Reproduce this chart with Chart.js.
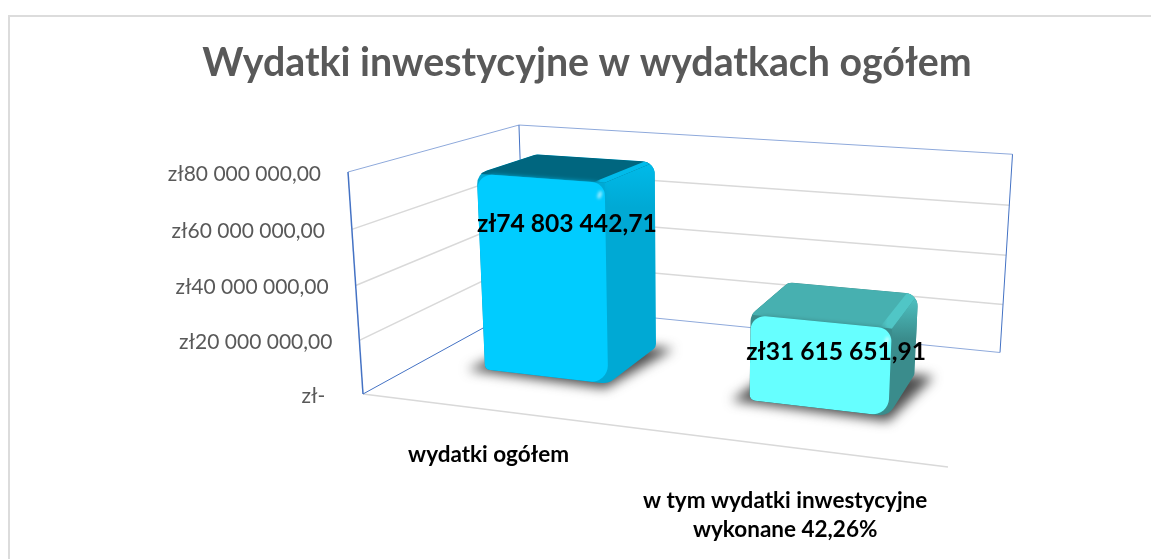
<!DOCTYPE html>
<html>
<head>
    <title>Wydatki inwestycyjne w wydatkach ogółem</title>
    <script src="https://cdn.jsdelivr.net/npm/chart.js"></script>
    <style>
        html, body { margin: 0; padding: 0; background: #fff; overflow: hidden; }
        #page { position: relative; width: 1151px; height: 559px; overflow: hidden; }
        #card { position: absolute; left: 8px; top: 15px; width: 1200px; height: 600px;
                border-left: 2px solid #dcdcdc; border-top: 2px solid #dcdcdc; }
        /* wider than the window: the card is cut off on the right in the original */
        canvas { position: absolute; left: 0; top: 0; }
    </style>
</head>
<body>
<div id="page">
    <div id="card"></div>
    <canvas id="chart" width="1174" height="559"></canvas>
</div>
<script>
    const categories = ['wydatki ogółem', ['w tym wydatki inwestycyjne', 'wykonane 42,26%']];
    const values = [74803442.71, 31615651.91];
    const frontColors = ['#00ccff', '#66ffff'];
    const topColors = ['#00667f', '#47b0b0'];
    const sideColors = ['#00a9d4', '#3a8c8c'];
    const bevelColors = ['#00bbea', '#50c6c6'];
    const axisMax = 80000000;
    const axisStep = 20000000;

    // floor corners on screen, and the point the vertical edges run to
    const floorQuad = [[363, 394], [948, 467], [1000, 352.5], [525, 305]];
    const vanish = [691, 5252];
    const rise = -0.0437;
    const barFront = 0.31, barBack = 0.69;
    const labelShift = [[27, 46], [16, 31]];
    const categoryShift = [[-7, 44], [-2, 54]];
    const uiFont = 'Lato, Carlito, sans-serif';

    function quadMap(q) {
        const [p0, p1, p2, p3] = q;
        const dx1 = p1[0] - p2[0], dy1 = p1[1] - p2[1];
        const dx2 = p3[0] - p2[0], dy2 = p3[1] - p2[1];
        const sx = p0[0] - p1[0] + p2[0] - p3[0], sy = p0[1] - p1[1] + p2[1] - p3[1];
        const den = dx1 * dy2 - dy1 * dx2;
        const g = (sx * dy2 - sy * dx2) / den, h = (dx1 * sy - dy1 * sx) / den;
        return (u, w) => [
            (p1[0] - p0[0] + g * p1[0]) * u + (p3[0] - p0[0] + h * p3[0]) * w + p0[0],
            (p1[1] - p0[1] + g * p1[1]) * u + (p3[1] - p0[1] + h * p3[1]) * w + p0[1],
            1 + g * u + h * w
        ];
    }
    const floorMap = quadMap(floorQuad);

    // u across the categories, v up the value axis, w into the depth
    function project(u, v, w) {
        const f = floorMap(u, w);
        const t = rise * v;
        const d = f[2] + t;
        return [(f[0] + t * vanish[0]) / d, (f[1] + t * vanish[1]) / d];
    }

    function line(ctx, a, b, color, width) {
        ctx.beginPath();
        ctx.moveTo(a[0], a[1]);
        ctx.lineTo(b[0], b[1]);
        ctx.strokeStyle = color;
        ctx.lineWidth = width;
        ctx.stroke();
    }

    function poly(ctx, pts) {
        ctx.beginPath();
        pts.forEach((p, i) => i ? ctx.lineTo(p[0], p[1]) : ctx.moveTo(p[0], p[1]));
        ctx.closePath();
    }

    function roundPoly(ctx, pts, radii) {
        const n = pts.length;
        ctx.beginPath();
        ctx.moveTo((pts[n - 1][0] + pts[0][0]) / 2, (pts[n - 1][1] + pts[0][1]) / 2);
        pts.forEach((p, i) => {
            const next = pts[(i + 1) % n];
            ctx.arcTo(p[0], p[1], (p[0] + next[0]) / 2, (p[1] + next[1]) / 2, radii[i]);
        });
        ctx.closePath();
    }

    function money(v) {
        if (v === 0) return 'zł-  ';
        const parts = v.toFixed(2).split('.');
        return 'zł' + parts[0].replace(/\B(?=(\d{3})+$)/g, ' ') + ',' + parts[1];
    }

    const frame3d = {
        id: 'frame3d',
        beforeDatasetsDraw(chart) {
            const ctx = chart.ctx;
            const yScale = chart.scales.y;
            const blue = '#4472c4', paleBlue = '#8ea9db', grid = '#d9d9d9';
            ctx.save();
            yScale.ticks.forEach(t => {
                const v = t.value / axisMax;
                if (t.value > 0 && t.value < axisMax) {
                    const a = project(0, v, 0), b = project(0, v, 1), c = project(1, v, 1);
                    ctx.beginPath();
                    ctx.moveTo(a[0], a[1]);
                    ctx.lineTo(b[0], b[1]);
                    ctx.lineTo(c[0], c[1]);
                    ctx.strokeStyle = grid;
                    ctx.lineWidth = 1.5;
                    ctx.stroke();
                }
                const p = project(0, v, 0);
                ctx.font = '21px ' + uiFont;
                ctx.fillStyle = '#595959';
                ctx.textAlign = 'right';
                ctx.textBaseline = 'middle';
                ctx.fillText(t.label, p[0] - 27, p[1] + 2);
            });
            line(ctx, project(0, 0, 0), project(1, 0, 0), grid, 1.5);
            line(ctx, project(0, 1, 0), project(0, 1, 1), paleBlue, 1);
            line(ctx, project(0, 1, 1), project(1, 1, 1), paleBlue, 1);
            line(ctx, project(1, 1, 1), project(1, 0, 1), blue, 1);
            line(ctx, project(1, 0, 1), project(0, 0, 1), paleBlue, 1);
            line(ctx, project(0, 1, 1), project(0, 0, 1), blue, 1);
            line(ctx, project(0, 0, 1), project(0, 0, 0), blue, 1);
            line(ctx, project(0, 0, 0), project(0, 1, 0), blue, 1.5);
            ctx.restore();
        },
        // the flat rectangles are replaced by the boxes drawn below
        beforeDatasetDraw() {
            return false;
        },
        afterDatasetsDraw(chart) {
            const ctx = chart.ctx, area = chart.chartArea;
            const bars = chart.getDatasetMeta(0).data;
            bars.forEach((el, i) => drawBox(ctx, area, el, i));
            // labels go on top of both boxes
            ctx.save();
            bars.forEach((el, i) => {
                const u = (el.x - area.left) / area.width;
                const v = (area.bottom - el.y) / area.height;
                const p = project(u, v, barFront);
                ctx.font = 'bold 24.6px ' + uiFont;
                ctx.fillStyle = '#000';
                ctx.textAlign = 'center';
                ctx.textBaseline = 'middle';
                ctx.fillText(money(values[i]), p[0] + labelShift[i][0], p[1] + labelShift[i][1]);

                const c = project(u, 0, 0);
                const lines = [].concat(categories[i]);
                ctx.font = 'bold 22.5px ' + uiFont;
                lines.forEach((s, k) => {
                    ctx.fillText(s, c[0] + categoryShift[i][0], c[1] + categoryShift[i][1] + k * 29);
                });
            });
            ctx.restore();
        }
    };

    function drawBox(ctx, area, el, i) {
        const u0 = (el.x - el.width / 2 - area.left) / area.width;
        const u1 = (el.x + el.width / 2 - area.left) / area.width;
        const v = (area.bottom - el.y) / area.height;
        const fbl = project(u0, 0, barFront), fbr = project(u1, 0, barFront);
        const ftl = project(u0, v, barFront), ftr = project(u1, v, barFront);
        const bbr = project(u1, 0, barBack), btr = project(u1, v, barBack);
        const btl = project(u0, v, barBack);

        ctx.save();
        // soft shadow on the floor
        ctx.filter = 'blur(6px)';
        ctx.fillStyle = 'rgba(45,45,45,0.85)';
        poly(ctx, [project(u0 - 0.028, 0, barFront - 0.02), project(u1 + 0.005, 0, barFront - 0.04),
                   project(u1 + 0.035, 0, barBack), project(u0, 0, barBack)]);
        ctx.fill();
        ctx.filter = 'none';

        // whole outline, filled with the side colour
        roundPoly(ctx, [fbl, fbr, bbr, btr, btl, ftl], [6, 16, 6, 13, 10, 14]);
        ctx.fillStyle = sideColors[i];
        ctx.fill();
        ctx.clip();

        // top of the side catches some light
        const sideGrad = ctx.createLinearGradient(btr[0], btr[1], btr[0], btr[1] + 45);
        sideGrad.addColorStop(0, bevelColors[i]);
        sideGrad.addColorStop(1, sideColors[i]);
        ctx.fillStyle = sideGrad;
        poly(ctx, [ftr, btr, [btr[0], btr[1] + 45], [ftr[0], ftr[1] + 45]]);
        ctx.fill();

        poly(ctx, [ftl, ftr, btr, btl]);
        ctx.fillStyle = topColors[i];
        ctx.fill();

        // bevel where the top meets the side, fading into the top
        const inner = project(u1 - 0.02, v, barFront), innerBack = project(u1 - 0.02, v, barBack);
        const bevelGrad = ctx.createLinearGradient(inner[0], inner[1], ftr[0], ftr[1]);
        bevelGrad.addColorStop(0, topColors[i]);
        bevelGrad.addColorStop(0.6, bevelColors[i]);
        bevelGrad.addColorStop(1, bevelColors[i]);
        poly(ctx, [inner, ftr, btr, innerBack]);
        ctx.fillStyle = bevelGrad;
        ctx.fill();

        // front face
        ctx.shadowColor = sideColors[i];
        ctx.shadowBlur = 4;
        ctx.shadowOffsetX = 2;
        roundPoly(ctx, [fbl, fbr, ftr, ftl], [6, 16, 14, 14]);
        ctx.fillStyle = frontColors[i];
        ctx.fill();
        ctx.shadowColor = 'transparent';

        // small glint on the corner
        ctx.filter = 'blur(1.5px)';
        ctx.fillStyle = 'rgba(255,255,255,0.6)';
        ctx.beginPath();
        ctx.ellipse(ftr[0] - 5, ftr[1] + 12, 2, 4, 0.3, 0, Math.PI * 2);
        ctx.fill();
        ctx.restore();
    }

    new Chart(document.getElementById('chart').getContext('2d'), {
        type: 'bar',
        data: {
            labels: categories,
            datasets: [{
                data: values,
                backgroundColor: frontColors,
                barPercentage: 0.48,
                categoryPercentage: 1
            }]
        },
        plugins: [frame3d],
        options: {
            responsive: false,
            animation: false,
            plugins: {
                legend: { display: false },
                tooltip: { enabled: false },
                title: {
                    display: true,
                    text: 'Wydatki inwestycyjne w wydatkach ogółem',
                    color: '#595959',
                    font: { family: uiFont, size: 39.3, weight: 'bold' },
                    padding: { top: 40, bottom: 30 }
                }
            },
            scales: {
                x: { display: false },
                y: {
                    display: false,
                    min: 0,
                    max: axisMax,
                    ticks: { stepSize: axisStep, callback: v => money(v) }
                }
            }
        }
    });
</script>
</body>
</html>
